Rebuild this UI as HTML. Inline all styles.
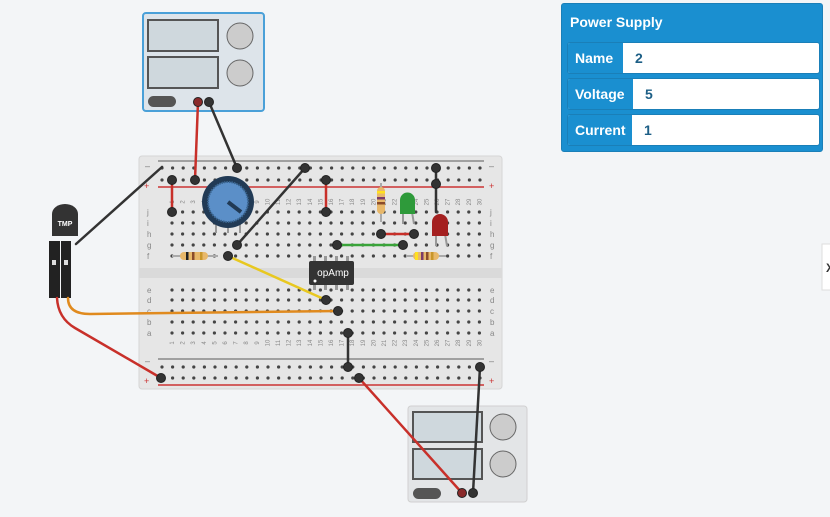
<!DOCTYPE html>
<html><head><meta charset="utf-8"><style>
html,body{margin:0;padding:0;background:#f3f5f7;width:830px;height:517px;overflow:hidden;font-family:"Liberation Sans",sans-serif}
svg{position:absolute;left:0;top:0}
.panel{position:absolute;left:561px;top:3px;width:260px;height:147px;background:#1a8fd0;border:1px solid #1a7fb8;border-radius:3px}
.panel .h{color:#fff;font-weight:bold;font-size:14px;padding:10px 0 0 8px;height:25px}
.row{position:absolute;left:5px;width:251px;height:30px;background:#fff;border:1px solid #1a7fb8;border-radius:3px;overflow:hidden}
.row .l{position:absolute;left:0;top:0;bottom:0;background:#1a8fd0;color:#fff;font-weight:bold;font-size:14px;line-height:30px;padding-left:7px}
.row .v{position:absolute;top:0;line-height:30px;font-size:14px;color:#1d5f86;font-weight:bold}
</style></head><body>
<svg width="830" height="517" viewBox="0 0 830 517" xmlns="http://www.w3.org/2000/svg">
<!-- top power supply -->
<rect x="143" y="13" width="121" height="98" rx="3" fill="#dde4ea" stroke="#4aa0d8" stroke-width="2"/>
<rect x="148" y="20" width="70" height="31" fill="#cfd8dd" stroke="#555" stroke-width="2"/>
<rect x="148" y="57" width="70" height="31" fill="#cfd8dd" stroke="#555" stroke-width="2"/>
<circle cx="240" cy="36" r="13" fill="#ccc" stroke="#666"/>
<circle cx="240" cy="73" r="13" fill="#ccc" stroke="#666"/>
<rect x="148" y="96" width="28" height="11" rx="5.5" fill="#555"/>
<!-- bottom power supply -->
<rect x="408" y="406" width="119" height="96" rx="3" fill="#e3e5e7" stroke="#d0d0d0"/>
<rect x="413" y="412" width="69" height="30" fill="#cfd8dd" stroke="#555" stroke-width="2"/>
<rect x="413" y="449" width="69" height="30" fill="#cfd8dd" stroke="#555" stroke-width="2"/>
<circle cx="503" cy="427" r="13" fill="#ccc" stroke="#666"/>
<circle cx="503" cy="464" r="13" fill="#ccc" stroke="#666"/>
<rect x="413" y="488" width="28" height="11" rx="5.5" fill="#555"/>
<!-- breadboard -->
<rect x="139" y="156" width="363" height="233" rx="3" fill="#e6e6e6" stroke="#d5d5d5"/>
<rect x="139" y="268" width="363" height="10" fill="#dadada"/>
<line x1="158" y1="161" x2="484" y2="161" stroke="#888" stroke-width="1.5"/>
<line x1="158" y1="187" x2="484" y2="187" stroke="#c33" stroke-width="1.5"/>
<line x1="158" y1="359" x2="484" y2="359" stroke="#888" stroke-width="1.5"/>
<line x1="158" y1="385" x2="484" y2="385" stroke="#c33" stroke-width="1.5"/>
<g font-size="9" fill="#c33"><text x="144" y="189">+</text><text x="489" y="189">+</text><text x="144" y="384">+</text><text x="489" y="384">+</text></g>
<g font-size="9" fill="#777"><text x="145" y="169">–</text><text x="489" y="169">–</text><text x="145" y="364">–</text><text x="489" y="364">–</text></g>
<g id="holes" fill="#444"></g>
<!-- potentiometer -->
<line x1="216" y1="220" x2="216" y2="233" stroke="#999" stroke-width="2"/>
<line x1="228" y1="220" x2="228" y2="233" stroke="#999" stroke-width="2"/>
<line x1="240" y1="220" x2="240" y2="233" stroke="#999" stroke-width="2"/>
<circle cx="228" cy="202" r="26" fill="#213a55"/>
<circle cx="228" cy="202" r="20" fill="#5b8fc8" stroke="#3a6590" stroke-width="2" stroke-dasharray="1.5 1"/>
<line x1="228" y1="202" x2="241" y2="212" stroke="#213a55" stroke-width="4"/>
<!-- resistors -->
<line x1="172" y1="256" x2="218" y2="256" stroke="#aaa" stroke-width="2"/>
<rect x="180" y="252" width="28" height="8" rx="4" fill="#e8b86a"/>
<rect x="186" y="252" width="2.5" height="8" fill="#222"/><rect x="192" y="252" width="2.5" height="8" fill="#8a4b2b"/><rect x="200" y="252" width="2.5" height="8" fill="#c8962a"/>
<line x1="406" y1="256" x2="446" y2="256" stroke="#aaa" stroke-width="2"/>
<rect x="413" y="252" width="26" height="8" rx="4" fill="#e8b86a"/>
<rect x="415" y="252" width="3" height="8" fill="#ffe020"/><rect x="421" y="252" width="2.5" height="8" fill="#7a3a6a"/><rect x="426" y="252" width="2.5" height="8" fill="#8a4b2b"/><rect x="431" y="252" width="2.5" height="8" fill="#c8962a"/>
<line x1="381" y1="183" x2="381" y2="222" stroke="#aaa" stroke-width="2"/>
<rect x="377" y="187" width="8" height="27" rx="4" fill="#e8b86a"/>
<rect x="377" y="191" width="8" height="2.5" fill="#ffe020"/><rect x="377" y="197" width="8" height="2.5" fill="#7a3a6a"/><rect x="377" y="202" width="8" height="2.5" fill="#8a4b2b"/>
<!-- LEDs -->
<line x1="403" y1="212" x2="403" y2="224" stroke="#999" stroke-width="2"/><line x1="412" y1="212" x2="414" y2="224" stroke="#999" stroke-width="2"/>
<path d="M400 214 V200 a7.5 7.5 0 0 1 15 0 V214 Z" fill="#2e9a3a"/>
<line x1="436" y1="234" x2="436" y2="246" stroke="#999" stroke-width="2"/><line x1="445" y1="234" x2="447" y2="246" stroke="#999" stroke-width="2"/>
<path d="M432 236 V222 a8 8 0 0 1 16 0 V236 Z" fill="#a42020"/>
<!-- opAmp -->
<g fill="#999"><rect x="313" y="256" width="3" height="6"/><rect x="324" y="256" width="3" height="6"/><rect x="335" y="256" width="3" height="6"/><rect x="346" y="256" width="3" height="6"/>
<rect x="313" y="284" width="3" height="6"/><rect x="324" y="284" width="3" height="6"/><rect x="335" y="284" width="3" height="6"/><rect x="346" y="284" width="3" height="6"/></g>
<rect x="309" y="261" width="45" height="24" rx="2" fill="#333"/>
<circle cx="315" cy="281" r="1.5" fill="#fff"/>
<text x="333" y="276" font-size="10" fill="#fff" text-anchor="middle">opAmp</text>
<!-- TMP -->
<path d="M52 236 V214 a13 10 0 0 1 26 0 V236 Z" fill="#333"/>
<text x="65" y="226" font-size="7" fill="#fff" font-weight="bold" text-anchor="middle">TMP</text>
<rect x="49" y="241" width="11" height="57" fill="#222"/><rect x="61" y="241" width="10" height="57" fill="#222"/>
<rect x="52" y="260" width="4" height="5" fill="#ddd"/><rect x="64" y="260" width="4" height="5" fill="#ddd"/>
<!-- wires -->
<g fill="none" stroke-linecap="round" stroke-width="2.5">
<path d="M57 298 Q58 318 75 328 L161 378" stroke="#c8302a"/>
<path d="M68 298 Q68 314 90 314 L338 311" stroke="#e08a1e"/>
<path d="M76 244 L162 167" stroke="#333"/>
<path d="M198 102 L195 180" stroke="#c8302a"/>
<path d="M209 102 L237 168" stroke="#333"/>
<path d="M172 180 L172 212" stroke="#c8302a"/>
<path d="M305 168 L237 245" stroke="#333"/>
<path d="M326 180 L326 212" stroke="#c8302a"/>
<path d="M436 168 L436 212" stroke="#333"/>
<path d="M381 234 L414 234" stroke="#c8302a"/>
<path d="M337 245 L403 245" stroke="#3aa43a"/>
<path d="M228 256 L326 300" stroke="#e8c820"/>
<path d="M348 333 L348 367" stroke="#333"/>
<path d="M359 378 L462 493" stroke="#c8302a"/>
<path d="M480 367 L473 493" stroke="#333"/>
</g>
<g fill="#333" stroke="#222">
<circle cx="198" cy="102" r="4.5" fill="#8a2a2a"/><circle cx="209" cy="102" r="4.5"/>
<circle cx="195" cy="180" r="4.5"/><circle cx="237" cy="168" r="4.5"/><circle cx="172" cy="180" r="4.5"/><circle cx="172" cy="212" r="4.5"/>
<circle cx="305" cy="168" r="4.5"/><circle cx="237" cy="245" r="4.5"/><circle cx="326" cy="180" r="4.5"/><circle cx="326" cy="212" r="4.5"/>
<circle cx="436" cy="168" r="4.5"/><circle cx="436" cy="184" r="4.5"/><circle cx="381" cy="234" r="4.5"/><circle cx="414" cy="234" r="4.5"/>
<circle cx="337" cy="245" r="4.5"/><circle cx="403" cy="245" r="4.5"/><circle cx="228" cy="256" r="4.5"/><circle cx="326" cy="300" r="4.5"/>
<circle cx="338" cy="311" r="4.5"/><circle cx="348" cy="333" r="4.5"/><circle cx="348" cy="367" r="4.5"/><circle cx="161" cy="378" r="4.5"/>
<circle cx="359" cy="378" r="4.5"/><circle cx="480" cy="367" r="4.5"/><circle cx="462" cy="493" r="4.5" fill="#8a2a2a"/><circle cx="473" cy="493" r="4.5"/>
</g>
<!-- right edge box -->
<rect x="822" y="244" width="12" height="46" fill="#fff" stroke="#ddd"/>
<text x="826" y="272" font-size="12" font-weight="bold" fill="#333">X</text>
</svg>
<div class="panel"><div class="h">Power Supply</div>
<div class="row" style="top:38px"><div class="l" style="width:48px">Name</div><div class="v" style="left:67px">2</div></div>
<div class="row" style="top:74px"><div class="l" style="width:58px">Voltage</div><div class="v" style="left:77px">5</div></div>
<div class="row" style="top:110px"><div class="l" style="width:57px">Current</div><div class="v" style="left:76px">1</div></div>
</div>
<script>
(function(){var g=document.getElementById('holes'),ns='http://www.w3.org/2000/svg',s='';
function c(x,y){s+='<circle cx="'+x.toFixed(1)+'" cy="'+y+'" r="1.6"/>';}
var rows=[212,223,234,245,256,290,300,311,322,333];
for(var i=0;i<30;i++){var x=172+i*10.6;rows.forEach(function(y){c(x,y)});}
[168,180,367,378].forEach(function(y){for(var i=0;i<31;i++)c(162+i*10.6,y);});
var L=['j','i','h','g','f','e','d','c','b','a'];
for(var k=0;k<10;k++){s+='<text x="147" y="'+(rows[k]+3)+'" font-size="8" fill="#888">'+L[k]+'</text><text x="490" y="'+(rows[k]+3)+'" font-size="8" fill="#888">'+L[k]+'</text>';}
for(var i=0;i<30;i++){var x=172+i*10.6;s+='<text x="'+(x+2).toFixed(1)+'" y="202" font-size="6" fill="#888" transform="rotate(-90 '+(x+2).toFixed(1)+' 202)" text-anchor="middle">'+(i+1)+'</text><text x="'+(x+2).toFixed(1)+'" y="343" font-size="6" fill="#888" transform="rotate(-90 '+(x+2).toFixed(1)+' 343)" text-anchor="middle">'+(i+1)+'</text>';}
g.innerHTML=s;})();
</script>
</body></html>
